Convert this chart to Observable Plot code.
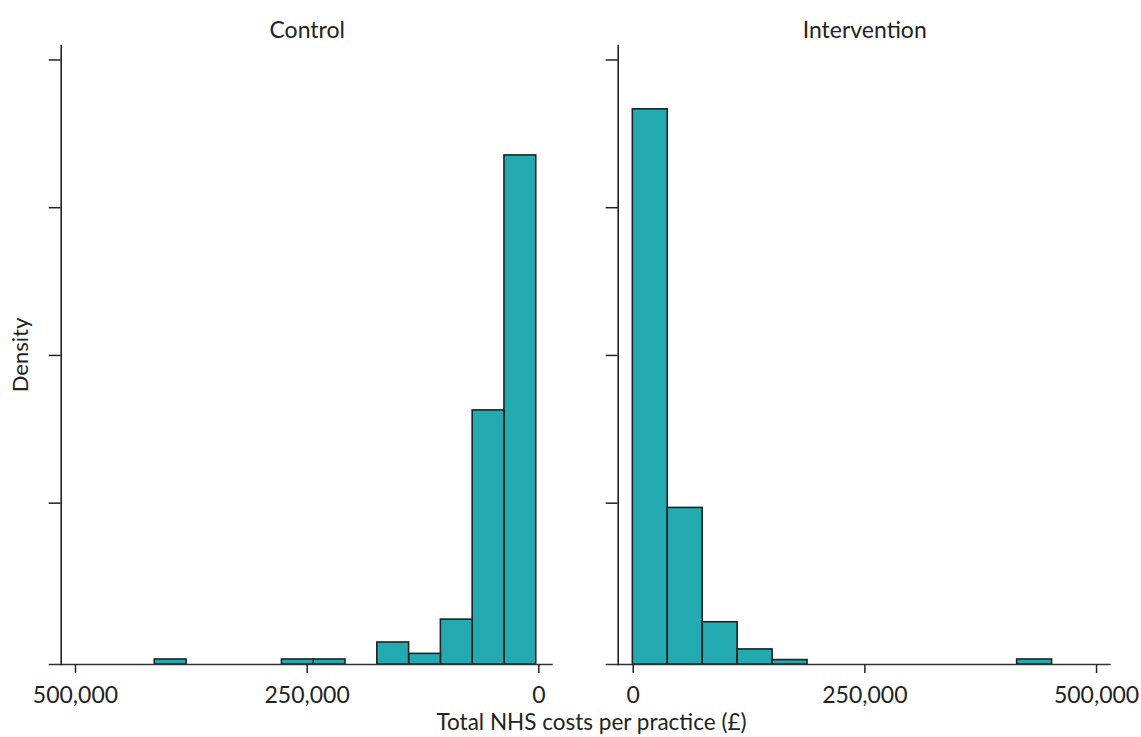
<!DOCTYPE html>
<html>
<head>
<meta charset="utf-8">
<script src="https://cdn.jsdelivr.net/npm/d3@7"></script>
<script src="https://cdn.jsdelivr.net/npm/@observablehq/plot@0.6"></script>
<style>
  body { margin: 0; background: #fff; }
  #wrap { position: relative; width: 1141px; height: 737px; overflow: hidden; font-family: Lato, sans-serif; color: #222; background: #fff; }
  #wrap svg { position: absolute; top: 0; }
  #xlabel { position: absolute; left: 0; top: 711px; width: 1183px; text-align: center; font-size: 22.5px; line-height: 1; color: #222; white-space: nowrap; }
</style>
</head>
<body>
<div id="wrap">
  <div id="xlabel">Total NHS costs per practice (£)</div>
</div>
<script>
// Panel titles
const panels = ["Control", "Intervention"];
// Histogram bin edges (£)
const controlEdges = [2800, 37100, 71400, 105700, 140000, 174300, 208600, 242900, 277200, 311500, 345800, 380100, 414400];
const interventionEdges = [-400, 37300, 75000, 112700, 150400, 188100, 225800, 263500, 301200, 338900, 376600, 414300, 452000];
// Densities (×1e-6 per £) for each bin
const controlDensity = [17.23, 8.60, 1.52, 0.36, 0.745, 0, 0.17, 0.17, 0, 0, 0, 0.17];
const interventionDensity = [18.79, 5.30, 1.43, 0.51, 0.15, 0, 0, 0, 0, 0, 0, 0.17];
// Axis ticks
const xTicks = [0, 250000, 500000];
const yTicks = [5.46, 10.46, 15.46, 20.46];
const yDomain = [0, 20.95];
const controlDomain = [515400, -15500];
const interventionDomain = [-16200, 515800];

const teal = "#23a9b0";

function panel(title, edges, dens, domain, withYLabel, width, marginRight) {
  const bins = dens.map((d, i) => ({x1: edges[i], x2: edges[i + 1], y: d})).filter(d => d.y > 0);
  const marks = [
    Plot.rectY(bins, {x1: "x1", x2: "x2", y: "y", fill: teal, stroke: "#222", strokeWidth: 1.6}),
    Plot.ruleY([0], {insetLeft: -12, stroke: "#333", strokeWidth: 1.5}),
    Plot.frame({anchor: "left", stroke: "#222", strokeWidth: 1.6}),
    Plot.axisY(yTicks, {tickSize: 12, tickFormat: () => "", strokeWidth: 1.5, label: null}),
    Plot.axisX(xTicks, {tickSize: 9, tickPadding: 13, tickFormat: d3.format(","), label: null, strokeWidth: 1.5, fontSize: 23}),
    Plot.text([title], {frameAnchor: "top", lineAnchor: "middle", textAnchor: "middle", dy: -15, fontSize: 23, fill: "#222"})
  ];
  if (withYLabel) {
    marks.push(Plot.text(["Density"], {frameAnchor: "left", textAnchor: "middle", lineAnchor: "middle", rotate: -90, dx: -40, fontSize: 22, fill: "#222"}));
  }
  return Plot.plot({
    width, height: 737,
    marginLeft: 60.7, marginRight, marginTop: 45, marginBottom: 73,
    x: {domain},
    y: {domain: yDomain},
    style: {fontFamily: "Lato, sans-serif", fontSize: "23px", color: "#222", background: "transparent", overflow: "visible"},
    marks
  });
}

const wrap = document.getElementById("wrap");
const c = panel(panels[0], controlEdges, controlDensity, controlDomain, true, 570, 17.3);
c.style.left = "0px";
const iv = panel(panels[1], interventionEdges, interventionDensity, interventionDomain, false, 571, 17.3);
iv.style.left = "557px";
wrap.appendChild(c);
wrap.appendChild(iv);
</script>
</body>
</html>
